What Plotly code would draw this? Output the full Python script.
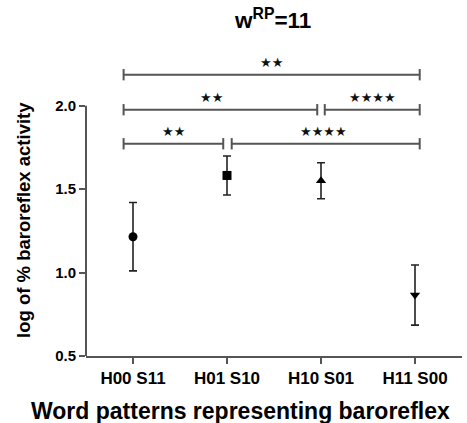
import plotly.graph_objects as go

# ---- data ----
categories = ["H00 S11", "H01 S10", "H10 S01", "H11 S00"]
means = [1.215, 1.582, 1.550, 0.865]
errors = [0.205, 0.117, 0.108, 0.180]
symbols = ["circle", "square", "triangle-up", "triangle-down"]

# significance brackets: (start, end) in category units, height, label, label position
br_start = [-0.10, -0.10, 2.04, -0.10, 1.05]
br_end = [3.05, 1.96, 3.05, 0.96, 3.05]
br_y = [2.186, 1.976, 1.976, 1.772, 1.772]
br_label = ["★★", "★★", "★★★★", "★★", "★★★★"]
br_label_x = [1.47, 0.84, 2.55, 0.43, 2.03]

yticks = [0.5, 1.0, 1.5, 2.0]
title_text = "w<sup>RP</sup>=11"
xtitle = "Word patterns representing baroreflex"
ytitle = "log of % baroreflex activity"

AX = "#555555"
FONT = "Liberation Sans, Arial, sans-serif"

fig = go.Figure()

for i in range(len(categories)):
    fig.add_trace(go.Scatter(
        x=[i], y=[means[i]], mode="markers",
        marker=dict(symbol=symbols[i], size=9, color="black"),
        error_y=dict(type="data", array=[errors[i]], visible=True,
                     thickness=1.6, width=4, color="#222222"),
        showlegend=False, cliponaxis=False,
    ))

cap = 0.034
for x0, x1, y in zip(br_start, br_end, br_y):
    fig.add_trace(go.Scatter(
        x=[x0, x0, None, x0, x1, None, x1, x1],
        y=[y - cap, y + cap, None, y, y, None, y - cap, y + cap],
        mode="lines", line=dict(color=AX, width=2),
        showlegend=False, hoverinfo="skip",
    ))

annotations = []
for lx, y, lab in zip(br_label_x, br_y, br_label):
    annotations.append(dict(
        text=lab, xref="x", yref="y", x=lx, y=y, yshift=12,
        xanchor="center", yanchor="middle", showarrow=False,
        font=dict(family="DejaVu Sans", size=13, color="#111111")))

# y axis line only up to 2.0
fig.add_shape(type="line", xref="paper", yref="y", x0=0, x1=0,
              y0=yticks[0], y1=yticks[-1], line=dict(color=AX, width=2))

annotations += [
    dict(text=xtitle, xref="paper", yref="paper", x=0.41, y=-0.19,
         xanchor="center", yanchor="middle", showarrow=False,
         font=dict(family=FONT, size=23, weight="bold", color="black")),
    dict(text=ytitle, xref="paper", yref="paper", x=-0.165, y=0.466,
         xanchor="center", yanchor="middle", textangle=-90, showarrow=False,
         font=dict(family=FONT, size=18.5, weight="bold", color="black")),
]

fig.update_layout(
    width=467, height=423,
    margin=dict(l=86, r=5, t=64, b=67),
    plot_bgcolor="white", paper_bgcolor="white",
    font=dict(family=FONT, color="black"),
    title=dict(text=title_text, xref="container", yref="container",
               x=0.585, xanchor="center", y=0.952, yanchor="middle",
               font=dict(family=FONT, size=22.5, weight="bold", color="black")),
    xaxis=dict(range=[-0.5, 3.5], tickvals=list(range(len(categories))),
               ticktext=categories, showgrid=False, zeroline=False,
               showline=True, linecolor=AX, linewidth=2,
               ticks="outside", ticklen=6, tickwidth=2, tickcolor=AX,
               tickfont=dict(family=FONT, size=17, weight="bold", color="black")),
    yaxis=dict(range=[0.5, 2.25], tickvals=yticks,
               ticktext=[f"{v:.1f}" for v in yticks],
               showgrid=False, zeroline=False, showline=False,
               ticks="outside", ticklen=6, tickwidth=2, tickcolor=AX,
               tickfont=dict(family=FONT, size=15, weight="bold", color="black")),
    annotations=annotations,
)

fig.write_html("out.html", config={"displayModeBar": False},
               post_script="document.body.style.margin='0';")
